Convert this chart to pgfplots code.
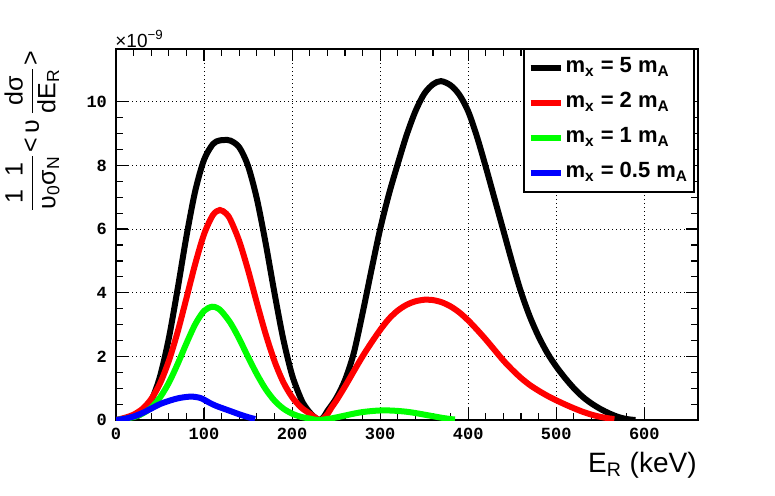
\documentclass[border=0pt]{standalone}
\usepackage{fontspec}
\setmainfont{Liberation Sans}
\newfontfamily\monofont{Liberation Mono}
\usepackage{amsmath}
\usepackage{pgfplots}
\pgfplotsset{compat=1.18}
\usepackage{pgfplotstable}
\definecolor{rgreen}{RGB}{0,255,0}
\definecolor{rred}{RGB}{255,0,0}
\definecolor{rblue}{RGB}{0,0,255}

\pgfplotstableread{
x y
0 0
10 0.02
20 0.07
30 0.23
40 0.61
50 1.37
60 2.57
70 4.12
80 5.77
90 7.2
100 8.18
110 8.67
117 8.78
123 8.8
130 8.78
140 8.57
150 7.98
160 6.95
170 5.55
180 3.99
190 2.54
200 1.41
210 0.67
215 0.42
220 0.24
225 0.1
231 0
236 0.1
240 0.28
250 0.68
260 1.25
270 2.1
280 3.35
290 4.7
300 6.0
310 7.1
320 8.05
330 8.95
340 9.7
350 10.25
360 10.55
369 10.65
380 10.52
390 10.22
400 9.7
410 8.9
420 7.95
430 6.95
440 5.95
450 4.95
460 4.02
470 3.25
480 2.62
490 2.1
500 1.68
510 1.32
520 1.0
530 0.73
540 0.52
550 0.35
560 0.21
570 0.1
580 0.03
590 0
}\blackdata

\pgfplotstableread{
x y
0 0
10 0.07
20 0.17
30 0.35
40 0.66
50 1.15
60 1.86
70 2.77
80 3.83
90 4.91
100 5.84
110 6.44
118 6.6
125 6.49
130 6.29
140 5.62
150 4.71
160 3.68
170 2.70
180 1.85
190 1.19
200 0.72
210 0.40
220 0.2
225 0.1
231 0
235 0.04
240 0.18
245 0.4
250 0.6
260 1.05
270 1.53
280 2.0
290 2.43
300 2.83
310 3.18
320 3.44
330 3.62
340 3.73
350 3.78
355 3.78
360 3.77
370 3.7
380 3.57
390 3.38
400 3.13
410 2.84
420 2.53
430 2.2
440 1.87
450 1.58
460 1.32
470 1.1
480 0.92
490 0.76
500 0.62
510 0.49
520 0.37
530 0.26
540 0.17
550 0.1
560 0.05
566 0.03
}\reddata

\pgfplotstableread{
x y
0 0
10 0.04
20 0.09
30 0.2
40 0.39
50 0.71
60 1.17
70 1.76
80 2.41
90 3.01
100 3.43
109 3.56
115 3.52
120 3.41
130 3.05
140 2.55
150 1.98
160 1.44
170 0.97
180 0.61
190 0.36
200 0.2
210 0.1
220 0.045
225 0.015
230 0
240 0.03
250 0.08
260 0.14
270 0.2
280 0.25
290 0.28
300 0.3
310 0.3
320 0.285
330 0.26
340 0.22
350 0.17
360 0.12
370 0.07
380 0.03
385 0.015
}\greendata

\pgfplotstableread{
x y
0 0
10 0.04
20 0.11
30 0.22
40 0.36
50 0.5
60 0.6
70 0.68
80 0.725
87 0.735
95 0.7
100 0.64
105 0.56
110 0.49
115 0.43
120 0.38
130 0.28
140 0.18
150 0.09
158 0.03
}\bluedata

\begin{document}
\begin{tikzpicture}
\path[use as bounding box] (-58pt,-37.5pt) rectangle (329.5pt,210pt);
\begin{axis}[
  at={(0,0)}, anchor=south west,
  scale only axis,
  width=291pt, height=185.5pt,
  xmin=0, xmax=661, ymin=0, ymax=11.66,
  xtick={0,100,...,600},
  ytick={0,2,...,10},
  minor x tick num=4,
  minor y tick num=3,
  tick align=inside,
  tick pos=both,
  major tick length=6pt,
  minor tick length=3.5pt,
  every tick/.style={black, line width=0.6pt},
  axis line style={line width=1pt},
  grid=major,
  major grid style={black, line width=0.5pt, dash pattern=on 0.6pt off 1.4pt},
  /pgf/number format/assume math mode=true,
  ticklabel style={font=\monofont\bfseries\fontsize{8.5}{10}\selectfont},
  yticklabel style={xshift=-1pt},
  xticklabel style={yshift=-0.5pt},
  clip=true,
  legend cell align=left,
  legend image code/.code={\draw[#1, line width=3pt] (0pt,0pt) -- (15pt,0pt);},
  legend style={at={(0.995,1.003)}, anchor=north east, draw=black, line width=1pt, fill=white,
    font=\bfseries\fontsize{11}{13}\selectfont, row sep=4.5pt, inner xsep=2pt, inner ysep=3pt,
    nodes={inner sep=1pt, text height=8pt, text depth=3pt}},
]
\addplot[black, line width=3pt, smooth, tension=0.5] table[x=x,y=y] {\blackdata};
\addlegendentry{m\textsubscript{x} = 5 m\textsubscript{A}}
\addplot[rred, line width=3pt, smooth, tension=0.5] table[x=x,y=y] {\reddata};
\addlegendentry{m\textsubscript{x} = 2 m\textsubscript{A}}
\addplot[rgreen, line width=3pt, smooth, tension=0.5] table[x=x,y=y] {\greendata};
\addlegendentry{m\textsubscript{x} = 1 m\textsubscript{A}}
\addplot[rblue, line width=3pt, smooth, tension=0.5] table[x=x,y=y] {\bluedata};
\addlegendentry{m\textsubscript{x} = 0.5 m\textsubscript{A}}
\end{axis}
\node[anchor=base west, inner sep=0pt] at (-0.5pt,186.5pt) {\fontsize{9.5}{11}\selectfont ×10\textsuperscript{−9}};
\node[anchor=base east, inner sep=0pt] at (290.5pt,-26pt) {\fontsize{14}{16}\selectfont E\textsubscript{R} (keV)};
\node[rotate=90, anchor=east, inner sep=0pt] at (-42pt,185pt) {\fontsize{12.5}{14}\selectfont \nulldelimiterspace=0pt $\displaystyle \frac{\text{1\,\,\,1}}{\text{υ}_{\text{0}}\text{σ}_{\text{N}}}\,\text{<}\,\text{υ}\;\frac{\text{dσ}}{\text{dE}_{\text{R}}}\,\text{>}$};
\end{tikzpicture}
\end{document}
